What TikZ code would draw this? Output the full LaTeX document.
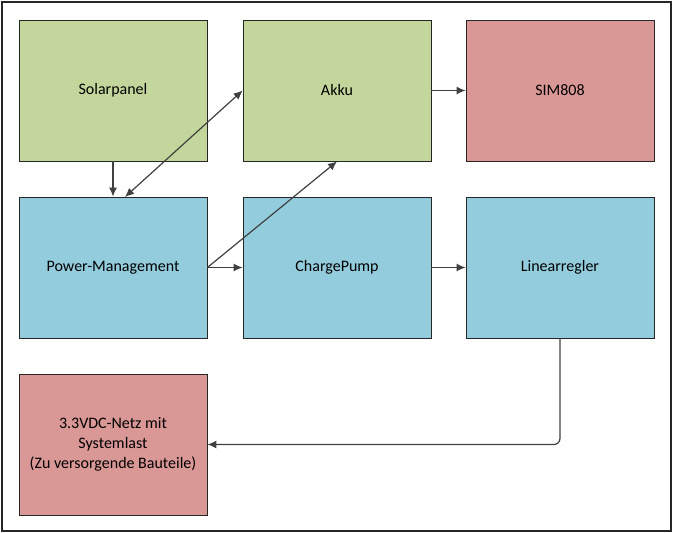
\documentclass[tikz,border=0pt]{standalone}
\usepackage{fontspec}
\setmainfont{Carlito}
\usetikzlibrary{arrows.meta}

\definecolor{gruen}{HTML}{C3D69B}
\definecolor{blau}{HTML}{93CDDD}
\definecolor{rot}{HTML}{D99795}
\definecolor{linie}{HTML}{404040}

\begin{document}
\begin{tikzpicture}[x=1pt,y=-1pt]

    \tikzset{
      block/.style={
        draw={black!85},
        line width=0.8pt,
        minimum width=188pt,
        minimum height=141pt,
        inner sep=0pt,
        align=center,
        font=\fontsize{16}{20}\selectfont,
      },
      pfeil/.style={
        color={linie},
        line width=1.2pt,
        -{Latex[length=9pt,width=8pt]},
      },
    }
    \useasboundingbox (0,0) rectangle (673,533);
    \draw[color={black!85},line width=2pt] (2,2) rectangle (671,531);
	\node[block,fill={gruen}] (solar) at (113,90.5) {Solarpanel};
	\node[block,fill={gruen}] (akku) at (337,90.5) {Akku};
	\node[block,fill={rot}] (sim) at (560,90.5) {SIM808};
	\node[block,fill={blau}] (pm) at (113,267.5) {Power-Management};
	\node[block,fill={blau}] (cp) at (337,267.5) {ChargePump};
	\node[block,fill={blau}] (lr) at (560,267.5) {Linearregler};
	\node[block,fill={rot}] (netz) at (113,444.5) {3.3VDC-Netz mit\\Systemlast\\(Zu versorgende Bauteile)};
	\coordinate (pmtop) at (125,197);
	\draw[pfeil] (solar.south)--(pm.north);
	\draw[pfeil,{Latex[length=9pt,width=8pt]}-{Latex[length=9pt,width=8pt]}] (pmtop)--(akku.west);
	\draw[pfeil] (pm.east)--(akku.south);
	\draw[pfeil] (pm.east)--(cp.west);
	\draw[pfeil] (akku.east)--(sim.west);
	\draw[pfeil] (cp.east)--(lr.west);
	\draw[pfeil,rounded corners=6pt] (lr.south)|-(netz.east);

\end{tikzpicture}
\end{document}
